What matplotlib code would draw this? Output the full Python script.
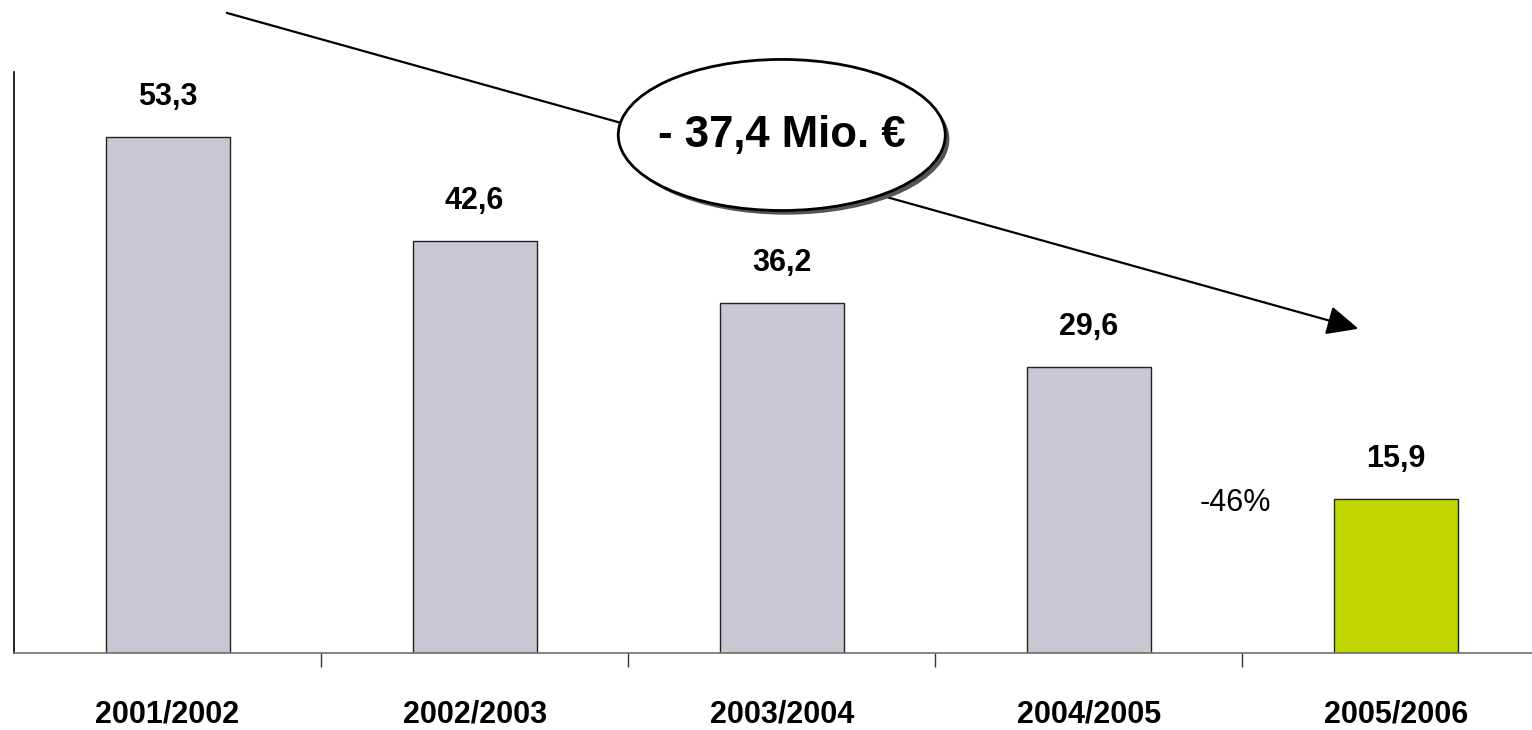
import matplotlib.pyplot as plt
from matplotlib.patches import Ellipse
import matplotlib.patheffects as pe

plt.rcParams['font.family'] = ['Liberation Sans', 'DejaVu Sans']

# Data
seasons = ["2001/2002", "2002/2003", "2003/2004", "2004/2005", "2005/2006"]
values = [53.3, 42.6, 36.2, 29.6, 15.9]
value_labels = ["53,3", "42,6", "36,2", "29,6", "15,9"]
bar_colors = ["#C9C7D1", "#C9C7D1", "#C9C7D1", "#C9C7D1", "#C0D800"]
change_label = "- 37,4 Mio. €"
pct_label = "-46%"

W, H = 1532, 730
fig = plt.figure(figsize=(W / 100, H / 100), dpi=100)
left_px, bottom_px, top_px = 14, 653.3, 72
slot = 307.1
ax = fig.add_axes([left_px / W, (H - bottom_px) / H,
                   (W - left_px) / W, (bottom_px - top_px) / H])

x = list(range(len(seasons)))
ax.bar(x, values, width=0.404, color=bar_colors, edgecolor="#222222",
       linewidth=1.0, zorder=2)

ax.set_xlim(-0.5, -0.5 + (W - left_px) / slot)
ax.set_ylim(0, 60)

# value labels
for xi, v, lab in zip(x, values, value_labels):
    ax.annotate(lab, (xi, v), xytext=(0, 23), textcoords="offset points",
                ha="center", va="baseline", fontsize=22, fontweight="bold")

# spines / ticks
for s in ["top", "right"]:
    ax.spines[s].set_visible(False)
ax.spines["left"].set_color("black")
ax.spines["left"].set_linewidth(1.2)
ax.spines["bottom"].set_color("#707070")
ax.spines["bottom"].set_linewidth(1.2)
ax.set_yticks([])
ax.set_xticks(x)
ax.set_xticklabels(seasons, fontsize=22, fontweight="bold")
ax.tick_params(axis="x", which="major", length=0, pad=33)
ax.set_xticks([i + 0.5 for i in x[:-1]], minor=True)
ax.tick_params(axis="x", which="minor", length=10, width=1.0, color="#333333",
               direction="out")

# trend arrow
ax.annotate("", xy=(3.878, 33.5), xytext=(0.193, 66.1),
            xycoords="data", textcoords="data",
            arrowprops=dict(arrowstyle="-|>,head_length=1.95,head_width=0.9",
                            color="black", lw=1.6, shrinkA=0, shrinkB=0),
            annotation_clip=False, zorder=3)

# ellipse call-out with shadow
ell = Ellipse((2.0, 53.5), width=327 / slot, height=151 / 9.683,
              facecolor="white", edgecolor="black", linewidth=2.0,
              clip_on=False, zorder=4)
ell.set_path_effects([pe.SimplePatchShadow(offset=(3, -3), shadow_rgbFace="#555555",
                                           alpha=1.0), pe.Normal()])
ax.add_patch(ell)
ax.text(2.0, 53.4, change_label, ha="center", va="center", fontsize=31.5,
        fontweight="bold", zorder=5)

ax.text(3.477, 15.5, pct_label, ha="center", va="center", fontsize=22, zorder=5)

fig.savefig("out.png", dpi=100)
